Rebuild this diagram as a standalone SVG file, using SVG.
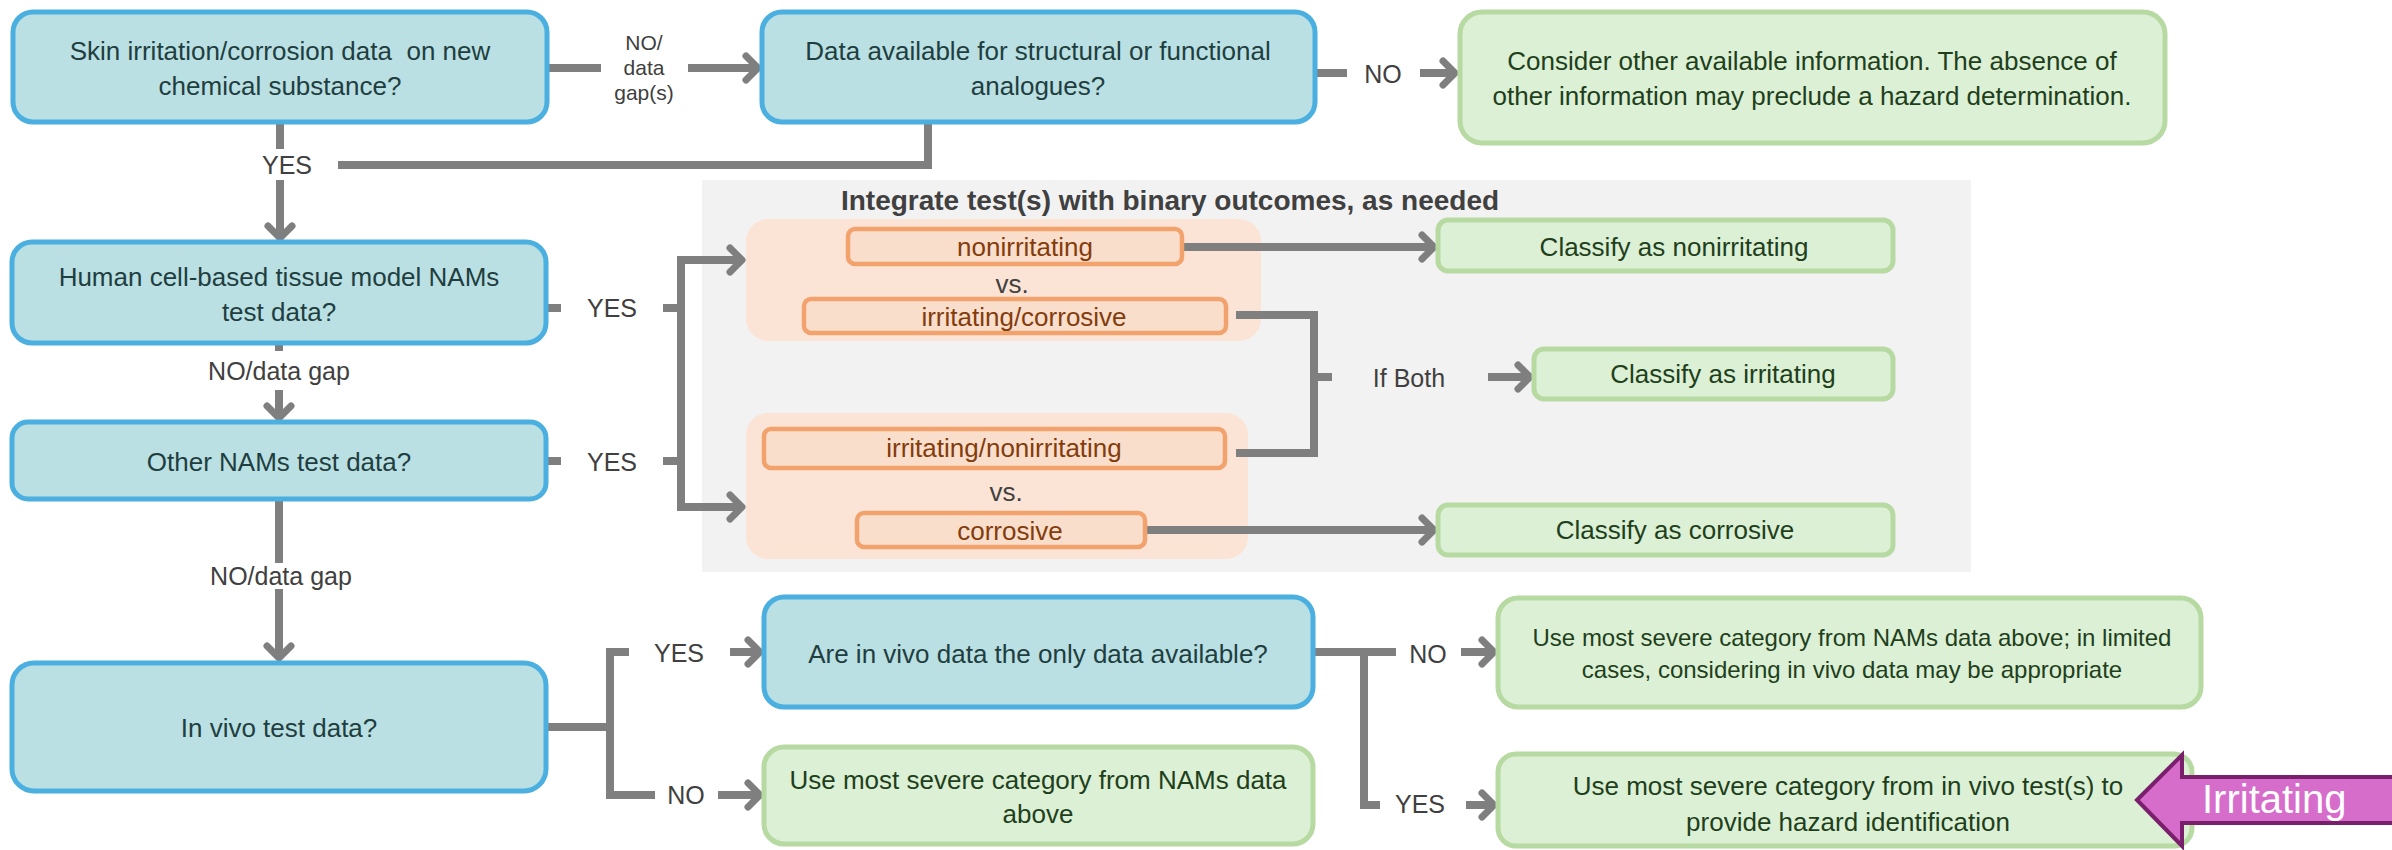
<svg xmlns="http://www.w3.org/2000/svg" width="2392" height="850" viewBox="0 0 2392 850">
<style>
text{font-family:"Liberation Sans",Arial,sans-serif;}
.q rect{fill:#BAE0E3;stroke:#4BB0E0;stroke-width:5;}
.q text{fill:#1F3E3F;font-size:26px;text-anchor:middle;}
.g rect{fill:#DBF0D4;stroke:#B7D9A2;stroke-width:5;}
.g text{fill:#1F3F1C;font-size:26px;text-anchor:middle;}
.o rect{fill:#F9DECC;stroke:#F2A26D;stroke-width:4.5;}
.o text{fill:#843C0C;font-size:26px;text-anchor:middle;}
.vs{fill:#404040;font-size:26px;text-anchor:middle;}
.lbl{fill:#404040;font-size:25px;text-anchor:middle;}
.c path{fill:none;stroke:#7F7F7F;stroke-width:8;}
.c path.a{marker-end:url(#ah);}
</style>
<defs>
<marker id="ah" markerUnits="userSpaceOnUse" markerWidth="40" markerHeight="40" viewBox="-20 -20 40 40" refX="0" refY="0" orient="auto">
<path d="M-9,-12 L3,0 L-9,12" fill="none" stroke="#7F7F7F" stroke-width="7" stroke-linecap="round" stroke-linejoin="round"/>
</marker>
</defs>
<rect width="2392" height="850" fill="#FFFFFF"/>

<g id="integrate-panel">
<rect x="702" y="180" width="1269" height="392" fill="#F2F2F2"/>
<text x="1170" y="210" font-size="28" font-weight="bold" fill="#404040" text-anchor="middle">Integrate test(s) with binary outcomes, as needed</text>
<rect x="746" y="219" width="515" height="122" rx="22" fill="#FBE4D6"/>
<rect x="746" y="413" width="502" height="146" rx="22" fill="#FBE4D6"/>
</g>

<g id="connectors" class="c">
<path d="M548,68 H601"/>
<path class="a" d="M688,68 H755"/>
<path d="M1317,73 H1347"/>
<path class="a" d="M1420,73 H1452"/>
<path d="M928,124 V165 H338"/>
<path d="M280,124 V149"/>
<path class="a" d="M280,180 V235"/>
<path d="M279,345 V351"/>
<path class="a" d="M279,390 V415"/>
<path d="M548,308 H561"/>
<path d="M663,308 H681"/>
<path d="M548,461 H561"/>
<path d="M663,461 H681"/>
<path class="a" d="M681,383 V260 H739"/>
<path class="a" d="M681,383 V507 H739"/>
<path class="a" d="M1184,247 H1431"/>
<path d="M1236,315 H1314 V453 H1236"/>
<path d="M1314,377 H1332"/>
<path class="a" d="M1488,377 H1527"/>
<path class="a" d="M1147,530 H1431"/>
<path d="M279,501 V563"/>
<path class="a" d="M279,589 V655"/>
<path d="M548,727 H610"/>
<path d="M610,652 V795"/>
<path d="M606,652 H629"/>
<path d="M606,795 H655"/>
<path class="a" d="M730,652 H757"/>
<path class="a" d="M718,795 H757"/>
<path d="M1315,652 H1396"/>
<path d="M1364,652 V805 H1380"/>
<path class="a" d="M1461,652 H1491"/>
<path class="a" d="M1466,805 H1491"/>
</g>

<g id="edge-labels">
<text class="lbl" style="font-size:21px"><tspan x="644" y="50">NO/</tspan><tspan x="644" y="75">data</tspan><tspan x="644" y="100">gap(s)</tspan></text>
<text class="lbl" x="1383" y="83">NO</text>
<text class="lbl" x="287" y="174">YES</text>
<text class="lbl" x="279" y="380">NO/data gap</text>
<text class="lbl" x="612" y="317">YES</text>
<text class="lbl" x="612" y="471">YES</text>
<text class="lbl" x="1409" y="387">If Both</text>
<text class="lbl" x="281" y="585">NO/data gap</text>
<text class="lbl" x="679" y="662">YES</text>
<text class="lbl" x="686" y="804">NO</text>
<text class="lbl" x="1428" y="663">NO</text>
<text class="lbl" x="1420" y="813">YES</text>
</g>

<g id="n-skin" class="q">
<rect x="13" y="12" width="534" height="110" rx="20"/>
<text><tspan x="280" y="60">Skin irritation/corrosion data&#160; on new</tspan><tspan x="280" y="95">chemical substance?</tspan></text>
</g>
<g id="n-analogues" class="q">
<rect x="762" y="12" width="553" height="110" rx="20"/>
<text><tspan x="1038" y="60">Data available for structural or functional</tspan><tspan x="1038" y="95">analogues?</tspan></text>
</g>
<g id="n-consider" class="g">
<rect x="1460" y="12" width="705" height="131" rx="22"/>
<text><tspan x="1812" y="70">Consider other available information. The absence of</tspan><tspan x="1812" y="105">other information may preclude a hazard determination.</tspan></text>
</g>
<g id="n-human" class="q">
<rect x="12" y="242" width="534" height="101" rx="20"/>
<text><tspan x="279" y="286">Human cell-based tissue model NAMs</tspan><tspan x="279" y="321">test data?</tspan></text>
</g>
<g id="n-other" class="q">
<rect x="12" y="422" width="534" height="77" rx="16"/>
<text x="279" y="471">Other NAMs test data?</text>
</g>
<g id="n-invivo" class="q">
<rect x="12" y="663" width="534" height="128" rx="22"/>
<text x="279" y="737">In vivo test data?</text>
</g>

<g id="o-nonirritating" class="o">
<rect x="848" y="229" width="334" height="35" rx="7"/>
<text x="1025" y="256">nonirritating</text>
</g>
<text id="vs-1" class="vs" x="1012" y="293">vs.</text>
<g id="o-irritating-corrosive" class="o">
<rect x="804" y="299" width="422" height="34" rx="7"/>
<text x="1024" y="326">irritating/corrosive</text>
</g>
<g id="o-irritating-nonirritating" class="o">
<rect x="764" y="429" width="461" height="39" rx="7"/>
<text x="1004" y="457">irritating/nonirritating</text>
</g>
<text id="vs-2" class="vs" x="1006" y="501">vs.</text>
<g id="o-corrosive" class="o">
<rect x="857" y="513" width="288" height="34" rx="7"/>
<text x="1010" y="540">corrosive</text>
</g>

<g id="n-class-nonirritating" class="g">
<rect x="1438" y="220" width="455" height="51" rx="10"/>
<text x="1674" y="256">Classify as nonirritating</text>
</g>
<g id="n-class-irritating" class="g">
<rect x="1534" y="349" width="359" height="50" rx="10"/>
<text x="1723" y="383">Classify as irritating</text>
</g>
<g id="n-class-corrosive" class="g">
<rect x="1438" y="505" width="455" height="50" rx="10"/>
<text x="1675" y="539">Classify as corrosive</text>
</g>

<g id="n-only-invivo" class="q">
<rect x="764" y="597" width="549" height="110" rx="20"/>
<text x="1038" y="663">Are in vivo data the only data available?</text>
</g>
<g id="n-use-nams" class="g">
<rect x="764" y="747" width="549" height="97" rx="20"/>
<text><tspan x="1038" y="789">Use most severe category from NAMs data</tspan><tspan x="1038" y="823">above</tspan></text>
</g>
<g id="n-use-nams-limited" class="g">
<rect x="1498" y="598" width="703" height="109" rx="20"/>
<text style="font-size:24px"><tspan x="1852" y="646">Use most severe category from NAMs data above; in limited</tspan><tspan x="1852" y="678">cases, considering in vivo data may be appropriate</tspan></text>
</g>
<g id="n-use-invivo" class="g">
<rect x="1498" y="754" width="694" height="92" rx="18"/>
<text><tspan x="1848" y="795">Use most severe category from in vivo test(s) to</tspan><tspan x="1848" y="831">provide hazard identification</tspan></text>
</g>

<g id="callout-irritating">
<polygon points="2137,800 2182,755 2182,777 2396,777 2396,823 2182,823 2182,846" fill="#D66DCB" stroke="#7A1F6C" stroke-width="4" stroke-linejoin="miter"/>
<text x="2202" y="813" font-size="40" fill="#FFFFFF">Irritating</text>
</g>
</svg>
